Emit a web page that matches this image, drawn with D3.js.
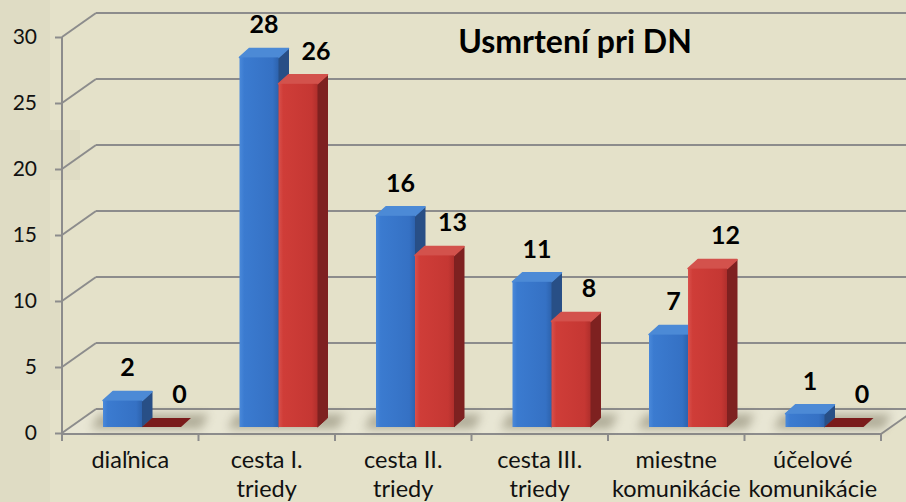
<!DOCTYPE html>
<html>
<head>
<meta charset="utf-8">
<script src="https://cdn.jsdelivr.net/npm/d3@7"></script>
<style>
  body { margin: 0; background: #e4e1c9; }
  svg { display: block; }
</style>
</head>
<body>
<svg id="chart"></svg>
<script>
// data
const categories = [["diaľnica"], ["cesta I.", "triedy"], ["cesta II.", "triedy"], ["cesta III.", "triedy"], ["miestne", "komunikácie"], ["účelové", "komunikácie"]];
const seriesBlue = [2, 28, 16, 11, 7, 1];
const seriesRed = [0, 26, 13, 8, 12, 0];
const yTicks = [0, 5, 10, 15, 20, 25, 30];
const chartTitle = "Usmrtení pri DN";

const W = 906, H = 502;
const font = "Lato, 'Open Sans', sans-serif";

const svg = d3.select("#chart").attr("width", W).attr("height", H);

// 3d depth of the plot box (back wall offset)
const depth = {dx: 34, dy: -24};
// bar depth
const bd = {dx: 10, dy: -9};

const x = d3.scaleBand()
    .domain(d3.range(categories.length))
    .range([62, 881]);

const y = d3.scaleLinear()
    .domain([0, 30])
    .range([433, 37]);

const defs = svg.append("defs");

svg.append("rect").attr("width", W).attr("height", H).attr("fill", "#e4e1c9");

// faint texture on the left edge
const tex = svg.append("g").attr("opacity", 0.15);
[[0, 0, 50, 502], [0, 130, 80, 50], [0, 300, 60, 90]].forEach(r => {
    tex.append("rect").attr("x", r[0]).attr("y", r[1]).attr("width", r[2]).attr("height", r[3])
        .attr("fill", "#c9c6ad");
});

// blur filter for floor shadows
const blur = defs.append("filter").attr("id", "blur").attr("x", "-50%").attr("y", "-50%").attr("width", "200%").attr("height", "200%");
blur.append("feGaussianBlur").attr("stdDeviation", 5);

function hGrad(id, stops) {
    const g = defs.append("linearGradient").attr("id", id).attr("x1", "0%").attr("x2", "100%").attr("y1", "0%").attr("y2", "0%");
    stops.forEach(s => g.append("stop").attr("offset", s[0]).attr("stop-color", s[1]));
}
hGrad("blueFront", [["0%", "#4a89da"], ["12%", "#3b7bd0"], ["85%", "#3571c4"], ["100%", "#2d63ae"]]);
hGrad("redFront", [["0%", "#d9504b"], ["12%", "#cf3d38"], ["85%", "#c53733"], ["100%", "#b02f2c"]]);

const colors = {
    blue: {front: "url(#blueFront)", side: "#284f86", top: "#4c8ad6"},
    red: {front: "url(#redFront)", side: "#7e2120", top: "#d3524c", flat: "#7a1b1b"}
};

// floor
const floorY = y(0);
svg.append("path")
    .attr("d", `M62,${floorY} L881,${floorY} L${881 + depth.dx},${floorY + depth.dy} L${62 + depth.dx},${floorY + depth.dy} Z`)
    .attr("fill", "#e8e6d4");

const grid = svg.append("g").attr("stroke", "#8c8c8c").attr("stroke-width", 2).attr("fill", "none");

// back wall grid lines and left wall diagonals
yTicks.forEach(t => {
    const yy = y(t);
    grid.append("line")
        .attr("x1", 62 + depth.dx).attr("y1", yy + depth.dy)
        .attr("x2", W).attr("y2", yy + depth.dy);
    grid.append("line")
        .attr("x1", 62).attr("y1", yy)
        .attr("x2", 62 + depth.dx).attr("y2", yy + depth.dy);
});

// floor front edge + right diagonal
grid.append("line").attr("x1", 62).attr("y1", floorY + 1).attr("x2", 881).attr("y2", floorY + 1);
grid.append("line").attr("x1", 881).attr("y1", floorY + 1).attr("x2", 881 + depth.dx).attr("y2", floorY + 1 + depth.dy);

// y axis
const yAxis = svg.append("g")
    .attr("transform", "translate(62,0)")
    .call(d3.axisLeft(y).tickValues(yTicks).tickSize(7).tickPadding(18).tickSizeOuter(0));
yAxis.select(".domain").attr("stroke", "#8c8c8c").attr("stroke-width", 2).attr("d", `M0,${y(30)}V${floorY + 8}`);
yAxis.selectAll(".tick line").attr("stroke", "#8c8c8c").attr("stroke-width", 2);
yAxis.selectAll(".tick text")
    .style("font-family", font).style("font-size", "21px").attr("fill", "#111");

// x axis ticks
const xTicks = d3.range(categories.length + 1).map(i => i < categories.length ? x(i) : x(i - 1) + x.bandwidth());
svg.append("g").selectAll("line").data(xTicks).enter().append("line")
    .attr("x1", d => d).attr("x2", d => d)
    .attr("y1", floorY + 1).attr("y2", floorY + 8)
    .attr("stroke", "#8c8c8c").attr("stroke-width", 2);

// category labels
const catG = svg.append("g");
categories.forEach((lines, i) => {
    const t = catG.append("text")
        .attr("x", x(i) + x.bandwidth() / 2)
        .attr("y", 468)
        .attr("text-anchor", "middle")
        .style("font-family", font).style("font-size", "23.5px").attr("fill", "#111");
    lines.forEach((l, j) => {
        t.append("tspan").attr("x", x(i) + x.bandwidth() / 2).attr("dy", j === 0 ? 0 : 29).text(l);
    });
});

// bars
const barW = 39;
const barOffset = 41; // from category left edge to bar front face
const baseY = floorY - 6;
const yBar = v => y(v) - 6;

const bars = [];
categories.forEach((c, i) => {
    bars.push({i: i, v: seriesBlue[i], x0: x(i) + barOffset, c: colors.blue, labelDx: 5});
    bars.push({i: i, v: seriesRed[i], x0: x(i) + barOffset + barW, c: colors.red, labelDx: 18});
});

// floor shadows
const shadowG = svg.append("g").attr("filter", "url(#blur)").attr("opacity", 0.45);
categories.forEach((c, i) => {
    const x0 = x(i) + barOffset - 12;
    const x1 = x(i) + barOffset + 2 * barW + bd.dx + 10;
    shadowG.append("path")
        .attr("d", `M${x0},${baseY + 2} L${x1},${baseY + 2} L${x1 + 8},${baseY + bd.dy - 4} L${x0 + 8},${baseY + bd.dy - 4} Z`)
        .attr("fill", "#6f6b52");
});

const barG = svg.append("g");
bars.forEach(b => {
    const g = barG.append("g");
    const top = yBar(b.v);
    const xl = b.x0, xr = b.x0 + barW;
    if (b.v === 0) {
        g.append("path")
            .attr("d", `M${xl},${baseY} L${xr},${baseY} L${xr + bd.dx},${baseY + bd.dy} L${xl + bd.dx},${baseY + bd.dy} Z`)
            .attr("fill", b.c.flat);
        return;
    }
    // side
    g.append("path")
        .attr("d", `M${xr},${baseY} L${xr},${top} L${xr + bd.dx},${top + bd.dy} L${xr + bd.dx},${baseY + bd.dy} Z`)
        .attr("fill", b.c.side)
        .attr("stroke", b.c.side).attr("stroke-width", 1).attr("stroke-linejoin", "round");
    // top
    g.append("path")
        .attr("d", `M${xl},${top} L${xr},${top} L${xr + bd.dx},${top + bd.dy} L${xl + bd.dx},${top + bd.dy} Z`)
        .attr("fill", b.c.top)
        .attr("stroke", b.c.top).attr("stroke-width", 1.5).attr("stroke-linejoin", "round");
    // front
    g.append("rect")
        .attr("x", xl).attr("y", top)
        .attr("width", barW).attr("height", baseY - top)
        .attr("fill", b.c.front);
});

// value labels
svg.append("g").selectAll("text").data(bars).enter().append("text")
    .attr("x", d => d.x0 + barW / 2 + d.labelDx)
    .attr("y", d => yBar(d.v) - 33)
    .attr("dy", "0.35em")
    .attr("text-anchor", "middle")
    .style("font-family", font).style("font-size", "25px").style("font-weight", "700")
    .attr("fill", "#000")
    .text(d => d.v);

// title
svg.append("text")
    .attr("x", 575).attr("y", 53)
    .attr("text-anchor", "middle")
    .style("font-family", font).style("font-size", "32px").style("font-weight", "700")
    .attr("fill", "#000")
    .text(chartTitle);
</script>
</body>
</html>
